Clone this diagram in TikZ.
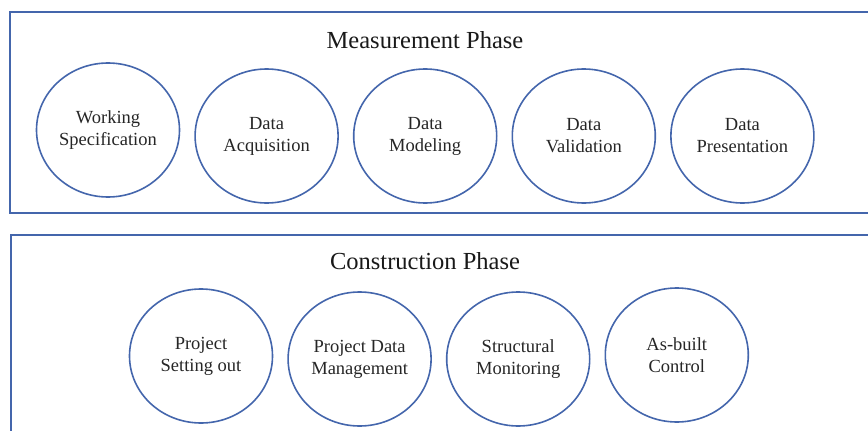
\documentclass[tikz,border=0pt]{standalone}
\usepackage{fontspec}
\setmainfont{Liberation Serif}
\usetikzlibrary{positioning,shapes.geometric}

\definecolor{phaseblue}{RGB}{68,102,172}
\tikzset{
  task/.style={ellipse, draw=phaseblue, line width=1.6pt, minimum width=143pt,
    minimum height=134pt, inner sep=0pt, align=center,
    font=\fontsize{18.5}{22}\selectfont, text=black!85},
  phasebox/.style={draw=phaseblue, line width=1.6pt},
  phasetitle/.style={font=\fontsize{24.5}{29}\selectfont, text=black!90},
}

\begin{document}
\begin{tikzpicture}[x=1pt, y=-1pt, node distance=14pt]
    \useasboundingbox (0,0) rectangle (868,431);
    \clip (0,0) rectangle (868,431);
    \draw[phasebox] (10,12) rectangle (885,213);
    \draw[phasebox] (11,235) rectangle (885,445);
    % measurement
    \node[phasetitle] (mtitle) at (425,40) {Measurement Phase};
    \node[task] (spec) at (108,130) {Working\\Specification};
    \node[task, right=of spec, yshift=-6pt] (acq)  {Data\\Acquisition};
    \node[task, right=of acq]  (model) {Data\\Modeling};
    \node[task, right=of model] (valid) {Data\\Validation};
    \node[task, right=of valid] (pres) {Data\\Presentation};
    % construction
    \node[phasetitle] (ctitle) at (425,261) {Construction Phase};
    \node[task] (setout) at (201,356) {Project\\Setting out};
    \node[task, right=of setout, yshift=-3pt] (pdm)  {Project Data\\Management};
    \node[task, right=of pdm]    (monit) {Structural\\Monitoring};
    \node[task, right=of monit, yshift=4pt]  (asbuilt) {As-built\\Control};
\end{tikzpicture}
\end{document}
